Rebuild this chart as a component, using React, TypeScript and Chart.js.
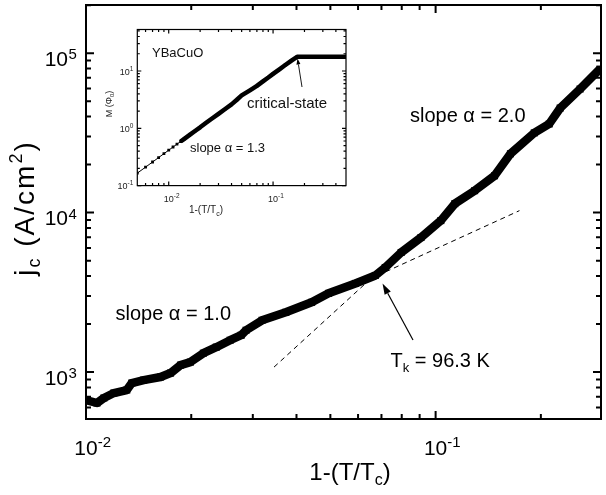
import React, { useEffect, useRef } from "react";
import { Chart, registerables } from "chart.js";

Chart.register(...registerables);

const FONT = '"Liberation Sans", Arial, Helvetica, sans-serif';

// ---- main panel data: jc vs 1-(T/Tc) ----
const jcX = [0.01, 0.01075, 0.01125, 0.01201, 0.01308, 0.01352, 0.01462, 0.01634, 0.01745, 0.01863, 0.01989, 0.02166, 0.02358, 0.02584, 0.02778, 0.0287, 0.03188, 0.03728, 0.0442, 0.04941, 0.05895, 0.06722, 0.07175, 0.07967, 0.09082, 0.1035, 0.1135, 0.1293, 0.1474, 0.1637, 0.1915, 0.2113, 0.2272, 0.2589, 0.2951];
const jcY = [668, 640, 688, 739, 772, 854, 891, 931, 986, 1106, 1155, 1314, 1433, 1585, 1703, 1830, 2113, 2371, 2738, 3117, 3597, 4037, 4529, 5623, 6982, 8913, 11380, 13725, 17030, 23380, 31620, 35990, 45290, 59570, 79430];

// guide lines (slope 1 and slope 2)
const lowFitX = [0.055, 0.1737];
const lowFitY = [3250, 10290];
const highFitX = [0.0345, 0.07];
const highFitY = [1075, 4436];

// main axes ticks
const mainXMajor = [0.01, 0.1];
const mainXExp = ["-2", "-1"];
const mainXMinor = [0.02, 0.03, 0.04, 0.05, 0.06, 0.07, 0.08, 0.09, 0.2];
const mainYMajor = [1e3, 1e4, 1e5];
const mainYExp = ["3", "4", "5"];
const mainYMinor = [600, 700, 800, 900, 2000, 3000, 4000, 5000, 6000, 7000, 8000, 9000, 20000, 30000, 40000, 50000, 60000, 70000, 80000, 90000, 200000];

// ---- inset data: M vs 1-(T/Tc) ----
const insetX = [0.005, 0.006, 0.007, 0.008, 0.009, 0.01, 0.011, 0.012, 0.013, 0.014, 0.016, 0.018, 0.02, 0.023, 0.026, 0.03, 0.035, 0.04, 0.045, 0.05, 0.06, 0.07, 0.08, 0.09, 0.1, 0.115, 0.13, 0.15, 0.17, 0.2, 0.25, 0.3, 0.35, 0.4, 0.45, 0.5];
const insetY = [0.165, 0.21, 0.258, 0.308, 0.361, 0.415, 0.471, 0.529, 0.588, 0.648, 0.775, 0.906, 1.04, 1.26, 1.48, 1.79, 2.19, 2.62, 3.15, 3.75, 4.6, 5.5, 6.6, 7.7, 8.9, 10.7, 12.6, 15.2, 17.7, 17.7, 17.7, 17.7, 17.7, 17.7, 17.7, 17.7];

const insetXMajor = [0.01, 0.1];
const insetXExp = ["-2", "-1"];
const insetXMinor = [0.006, 0.007, 0.008, 0.009, 0.02, 0.03, 0.04, 0.05, 0.06, 0.07, 0.08, 0.09, 0.2, 0.3, 0.4];
const insetYMajor = [0.1, 1, 10];
const insetYExp = ["-1", "0", "1"];
const insetYMinor = [0.2, 0.3, 0.4, 0.5, 0.6, 0.7, 0.8, 0.9, 2, 3, 4, 5, 6, 7, 8, 9, 20, 30, 40, 50];

type Part = [string, number, number];

function drawParts(ctx: CanvasRenderingContext2D, parts: Part[], x: number, y: number, align: "left" | "center" | "right", spacing = 0) {
  const c: any = ctx;
  const prevLS = c.letterSpacing;
  if (spacing) c.letterSpacing = `${spacing}px`;
  let w = 0;
  for (const [t, s] of parts) {
    ctx.font = `${s}px ${FONT}`;
    w += ctx.measureText(t).width;
  }
  let cx = align === "left" ? x : align === "center" ? x - w / 2 : x - w;
  ctx.textAlign = "left";
  ctx.textBaseline = "alphabetic";
  for (const [t, s, dy] of parts) {
    ctx.font = `${s}px ${FONT}`;
    ctx.fillText(t, cx, y + dy);
    cx += ctx.measureText(t).width;
  }
  if (spacing) c.letterSpacing = prevLS || "0px";
}

function drawFrame(chart: any, xMaj: number[], xMin: number[], yMaj: number[], yMin: number[], majLen: number, minLen: number, lw: number) {
  const { ctx, chartArea: a, scales } = chart;
  const xs = scales.x;
  const ys = scales.y;
  ctx.save();
  ctx.strokeStyle = "#000";
  ctx.lineWidth = lw;
  ctx.beginPath();
  const tick = (v: number, len: number, horiz: boolean) => {
    if (horiz) {
      const p = xs.getPixelForValue(v);
      if (p < a.left - 0.5 || p > a.right + 0.5) return;
      ctx.moveTo(p, a.bottom);
      ctx.lineTo(p, a.bottom - len);
      ctx.moveTo(p, a.top);
      ctx.lineTo(p, a.top + len);
    } else {
      const p = ys.getPixelForValue(v);
      if (p < a.top - 0.5 || p > a.bottom + 0.5) return;
      ctx.moveTo(a.left, p);
      ctx.lineTo(a.left + len, p);
      ctx.moveTo(a.right, p);
      ctx.lineTo(a.right - len, p);
    }
  };
  xMaj.forEach((v) => tick(v, majLen, true));
  xMin.forEach((v) => tick(v, minLen, true));
  yMaj.forEach((v) => tick(v, majLen, false));
  yMin.forEach((v) => tick(v, minLen, false));
  ctx.stroke();
  ctx.strokeRect(a.left, a.top, a.right - a.left, a.bottom - a.top);
  ctx.restore();
}

function drawArrow(ctx: CanvasRenderingContext2D, x1: number, y1: number, x2: number, y2: number, hl: number, hw: number, lw: number) {
  const ang = Math.atan2(y2 - y1, x2 - x1);
  const bx = x2 - Math.cos(ang) * hl;
  const by = y2 - Math.sin(ang) * hl;
  ctx.save();
  ctx.strokeStyle = "#000";
  ctx.fillStyle = "#000";
  ctx.lineWidth = lw;
  ctx.beginPath();
  ctx.moveTo(x1, y1);
  ctx.lineTo(bx, by);
  ctx.stroke();
  ctx.beginPath();
  ctx.moveTo(x2, y2);
  ctx.lineTo(bx + Math.sin(ang) * hw, by - Math.cos(ang) * hw);
  ctx.lineTo(bx - Math.sin(ang) * hw, by + Math.cos(ang) * hw);
  ctx.closePath();
  ctx.fill();
  ctx.restore();
}

const mainDeco = {
  id: "mainDeco",
  afterDraw(chart: any) {
    const { ctx, chartArea: a, scales } = chart;
    drawFrame(chart, mainXMajor, mainXMinor, mainYMajor, mainYMinor, 8, 5, 2);
    ctx.save();
    ctx.fillStyle = "#000";
    // x tick labels
    mainXMajor.forEach((v, i) => {
      const p = scales.x.getPixelForValue(v);
      ctx.font = `21px ${FONT}`;
      const w = ctx.measureText("10").width;
      drawParts(ctx, [["10", 21, 0]], p, a.bottom + 36, "center");
      drawParts(ctx, [[mainXExp[i], 15, 0]], p + w / 2, a.bottom + 28, "left");
    });
    // y tick labels
    mainYMajor.forEach((v, i) => {
      const p = scales.y.getPixelForValue(v);
      drawParts(ctx, [["10", 21, 0]], a.left - 18, p + 12.7, "right");
      drawParts(ctx, [[mainYExp[i], 15, 0]], a.left - 17.5, p + 6, "left");
    });
    // axis titles
    drawParts(ctx, [["1-(T/T", 24, 0], ["c", 16, 5], [")", 24, 0]], 350, 480, "center");
    ctx.save();
    ctx.translate(34, 208);
    ctx.rotate(-Math.PI / 2);
    drawParts(ctx, [["j", 28, 0], ["c", 18, 6], [" (A/cm", 28, 0], ["2", 18, -12], [")", 28, 0]], 0, 0, "center", 2);
    ctx.restore();
    // annotations
    drawParts(ctx, [["slope \u03b1 = 2.0", 20, 0]], 410, 122, "left");
    drawParts(ctx, [["slope \u03b1 = 1.0", 20, 0]], 115.5, 319.5, "left");
    drawParts(ctx, [["T", 20, 0], ["k", 13, 5], [" = 96.3 K", 20, 0]], 390.5, 366.5, "left");
    ctx.restore();
    drawArrow(ctx, 413, 340, 382.5, 283.5, 11, 3.5, 1.2);
  },
};

const insetDeco = {
  id: "insetDeco",
  afterDraw(chart: any) {
    const { ctx, chartArea: a, scales } = chart;
    drawFrame(chart, insetXMajor, insetXMinor, insetYMajor, insetYMinor, 4, 2.5, 1.2);
    ctx.save();
    ctx.fillStyle = "#222";
    insetXMajor.forEach((v, i) => {
      const p = scales.x.getPixelForValue(v);
      ctx.font = `9px ${FONT}`;
      const w = ctx.measureText("10").width;
      drawParts(ctx, [["10", 9, 0]], p, a.bottom + 16, "center");
      drawParts(ctx, [[insetXExp[i], 6.5, 0]], p + w / 2, a.bottom + 12, "left");
    });
    insetYMajor.forEach((v, i) => {
      const p = scales.y.getPixelForValue(v);
      ctx.font = `6.5px ${FONT}`;
      const ew = ctx.measureText(insetYExp[i]).width;
      const right = a.left - 4;
      drawParts(ctx, [["10", 9, 0]], right - ew, p + 3.5, "right");
      drawParts(ctx, [[insetYExp[i], 6.5, 0]], right - ew, p - 0.5, "left");
    });
    // titles (inset canvas offset: 95, 20)
    drawParts(ctx, [["1-(T/T", 10, 0], ["c", 7, 2.5], [")", 10, 0]], 206 - 95, 213 - 20, "center");
    ctx.save();
    ctx.translate(112 - 95, 104 - 20);
    ctx.rotate(-Math.PI / 2);
    drawParts(ctx, [["M (\u03a6", 9, 0], ["0", 6, 2], [")", 9, 0]], 0, 0, "center");
    ctx.restore();
    ctx.fillStyle = "#111";
    drawParts(ctx, [["YBaCuO", 13, 0]], 152 - 95, 57 - 20, "left");
    drawParts(ctx, [["critical-state", 15, 0]], 247 - 95, 108 - 20, "left");
    drawParts(ctx, [["slope \u03b1 = 1.3", 13, 0]], 190 - 95, 151.5 - 20, "left");
    ctx.restore();
    drawArrow(ctx, 302 - 95, 87 - 20, 297.5 - 95, 58.5 - 20, 6, 2, 0.9);
  },
};

export default function App() {
  const mainRef = useRef<HTMLCanvasElement>(null);
  const insetRef = useRef<HTMLCanvasElement>(null);

  useEffect(() => {
    const mainChart = new Chart(mainRef.current as HTMLCanvasElement, {
      type: "line",
      data: {
        datasets: [
          {
            label: "jc",
            data: jcX.map((x, i) => ({ x, y: jcY[i] })),
            borderColor: "#000",
            backgroundColor: "#000",
            borderWidth: 8.5,
            borderJoinStyle: "round",
            pointStyle: "rect",
            pointRadius: 5,
            pointBorderWidth: 0,
            pointBackgroundColor: "#000",
            tension: 0,
            order: 0,
          },
          {
            label: "slope1",
            data: lowFitX.map((x, i) => ({ x, y: lowFitY[i] })),
            borderColor: "#000",
            borderWidth: 1,
            borderDash: [5, 4],
            pointRadius: 0,
            order: 1,
          },
          {
            label: "slope2",
            data: highFitX.map((x, i) => ({ x, y: highFitY[i] })),
            borderColor: "#000",
            borderWidth: 1,
            borderDash: [5, 4],
            pointRadius: 0,
            order: 1,
          },
        ],
      },
      options: {
        animation: false,
        responsive: false,
        devicePixelRatio: 1,
        layout: { padding: { left: 86, right: 2, top: 4, bottom: 76 } },
        plugins: { legend: { display: false }, tooltip: { enabled: false } },
        events: [],
        scales: {
          x: { type: "logarithmic", min: 0.01, max: 0.2972, display: false },
          y: { type: "logarithmic", min: 508, max: 200400, display: false },
        },
      },
      plugins: [mainDeco],
    } as any);

    const insetChart = new Chart(insetRef.current as HTMLCanvasElement, {
      type: "line",
      data: {
        datasets: [
          {
            label: "M",
            data: insetX.map((x, i) => ({ x, y: insetY[i] })),
            borderColor: "#000",
            backgroundColor: "#000",
            borderWidth: 4,
            borderJoinStyle: "round",
            segment: {
              borderWidth: (c: any) => (c.p0.parsed.x < 0.0125 ? 1 : 4.5),
            },
            pointStyle: "rect",
            pointRadius: 2,
            pointBorderWidth: 0,
            pointBackgroundColor: "#000",
            tension: 0,
          },
        ],
      },
      options: {
        animation: false,
        responsive: false,
        devicePixelRatio: 1,
        layout: { padding: { left: 42.3, right: 14, top: 9.5, bottom: 44.4 } },
        plugins: { legend: { display: false }, tooltip: { enabled: false } },
        events: [],
        scales: {
          x: { type: "logarithmic", min: 0.005, max: 0.5, display: false },
          y: { type: "logarithmic", min: 0.1, max: 53, display: false },
        },
      },
      plugins: [insetDeco],
    } as any);

    return () => {
      mainChart.destroy();
      insetChart.destroy();
    };
  }, []);

  return (
    <div style={{ position: "absolute", left: 0, top: 0, width: 606, height: 495, background: "#fff" }}>
      <canvas ref={mainRef} width={606} height={495} style={{ position: "absolute", left: 0, top: 0, display: "block" }} />
      <canvas ref={insetRef} width={265} height={210} style={{ position: "absolute", left: 95, top: 20, display: "block" }} />
    </div>
  );
}
